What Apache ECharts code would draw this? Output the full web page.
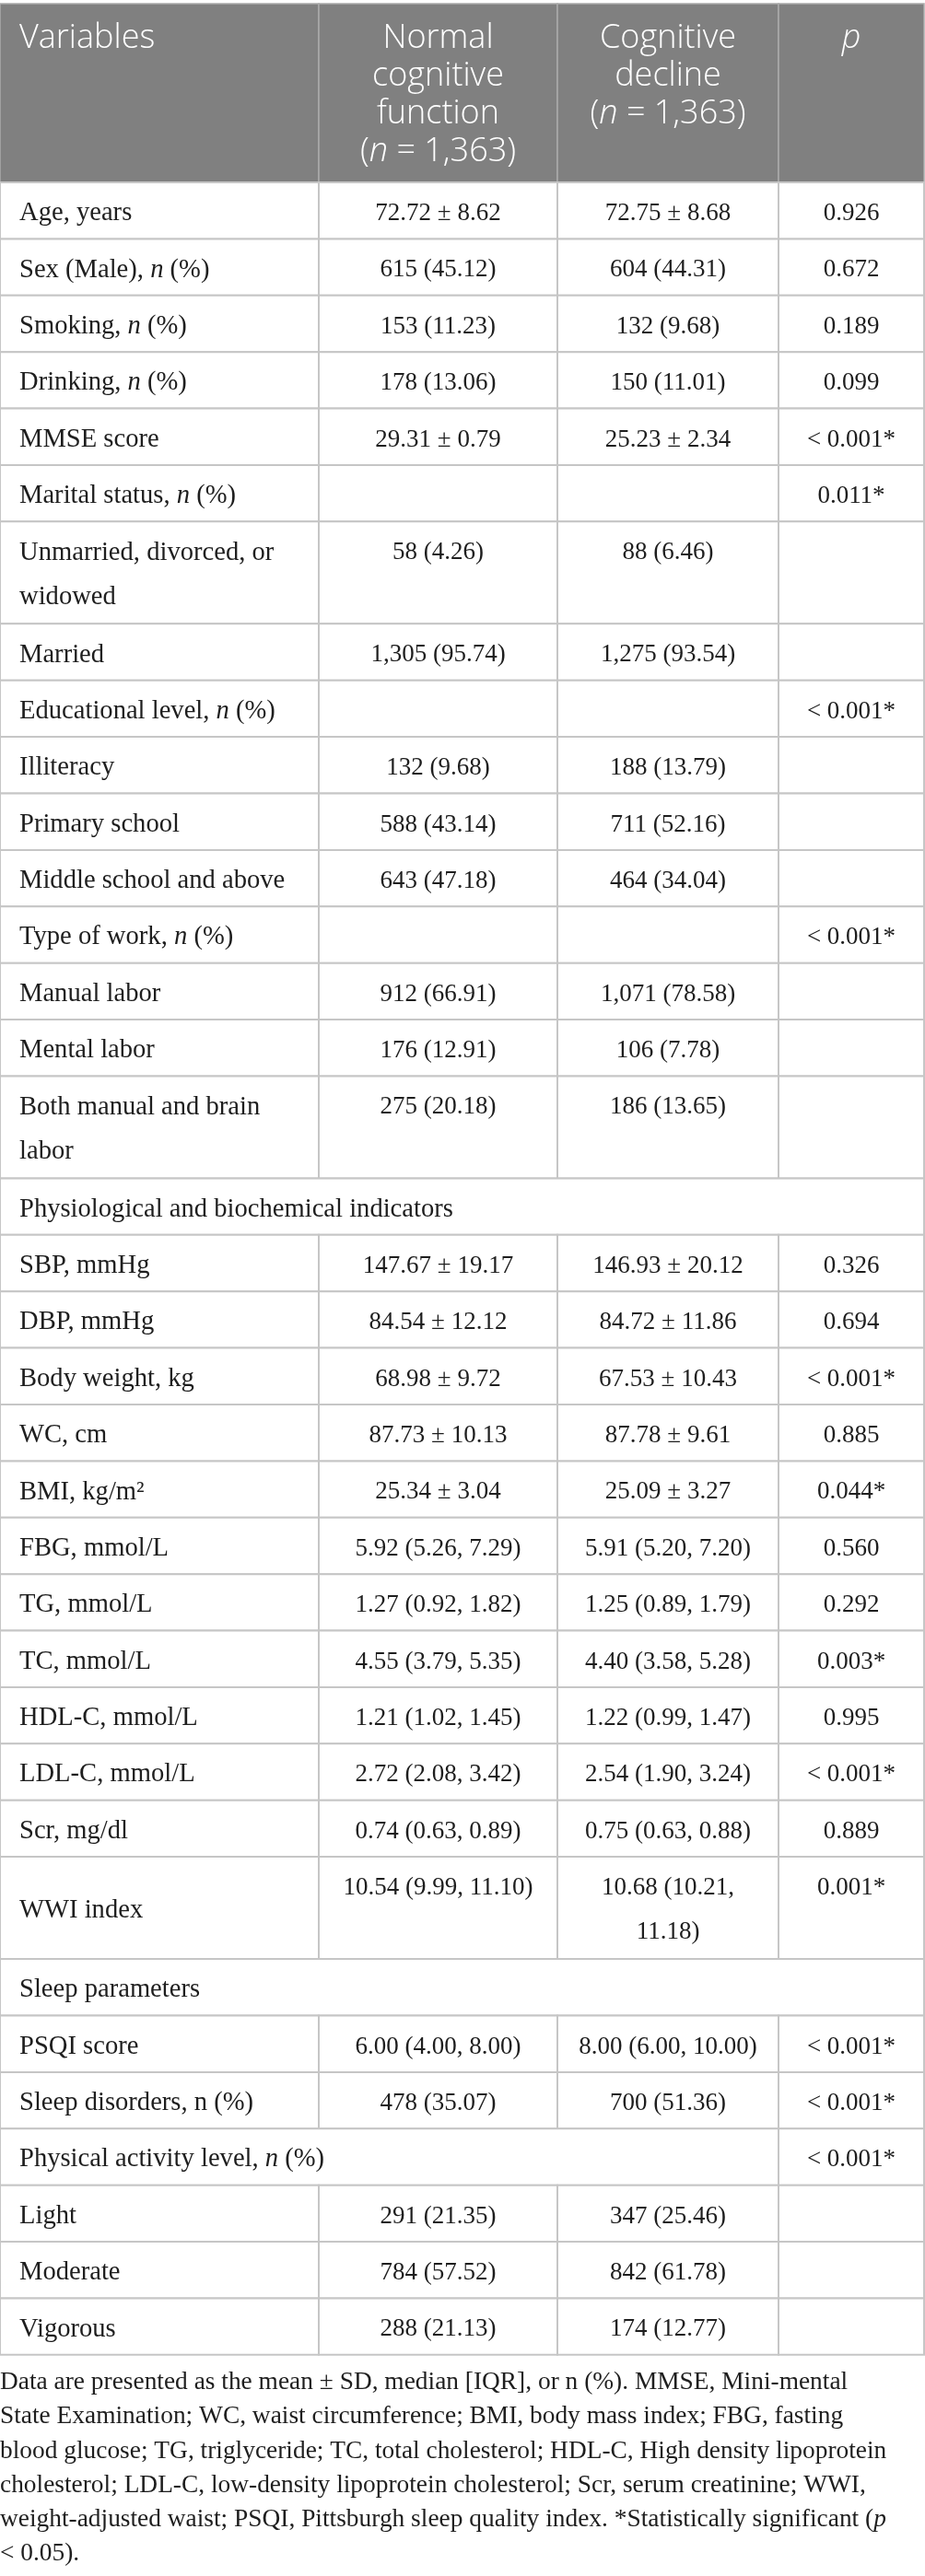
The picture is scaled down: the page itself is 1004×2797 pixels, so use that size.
<!DOCTYPE html>
<html>
<head>
<meta charset="utf-8">
<script src="https://cdn.jsdelivr.net/npm/echarts@6/dist/echarts.min.js"></script>
<style>
  html, body { margin: 0; padding: 0; background: #ffffff; }
  #chart { width: 1004px; height: 2797px; }
</style>
</head>
<body>
<div id="chart"></div>
<script>
// ---------- DATA ----------
const headers = [
  'Variables',
  'Normal\ncognitive\nfunction\n({i|n} = 1,363)',
  'Cognitive\ndecline\n({i|n} = 1,363)',
  '{i|p}'
];

const variables = [
  'Age, years',
  'Sex (Male), {i|n} (%)',
  'Smoking, {i|n} (%)',
  'Drinking, {i|n} (%)',
  'MMSE score',
  'Marital status, {i|n} (%)',
  'Unmarried, divorced, or\nwidowed',
  'Married',
  'Educational level, {i|n} (%)',
  'Illiteracy',
  'Primary school',
  'Middle school and above',
  'Type of work, {i|n} (%)',
  'Manual labor',
  'Mental labor',
  'Both manual and brain\nlabor',
  'Physiological and biochemical indicators',
  'SBP, mmHg',
  'DBP, mmHg',
  'Body weight, kg',
  'WC, cm',
  'BMI, kg/m²',
  'FBG, mmol/L',
  'TG, mmol/L',
  'TC, mmol/L',
  'HDL-C, mmol/L',
  'LDL-C, mmol/L',
  'Scr, mg/dl',
  'WWI index',
  'Sleep parameters',
  'PSQI score',
  'Sleep disorders, n (%)',
  'Physical activity level, {i|n} (%)',
  'Light',
  'Moderate',
  'Vigorous'
];

const normalGroup = [
  '72.72 ± 8.62', '615 (45.12)', '153 (11.23)', '178 (13.06)', '29.31 ± 0.79',
  '', '58 (4.26)', '1,305 (95.74)',
  '', '132 (9.68)', '588 (43.14)', '643 (47.18)',
  '', '912 (66.91)', '176 (12.91)', '275 (20.18)',
  '', '147.67 ± 19.17', '84.54 ± 12.12', '68.98 ± 9.72', '87.73 ± 10.13', '25.34 ± 3.04',
  '5.92 (5.26, 7.29)', '1.27 (0.92, 1.82)', '4.55 (3.79, 5.35)', '1.21 (1.02, 1.45)',
  '2.72 (2.08, 3.42)', '0.74 (0.63, 0.89)', '10.54 (9.99, 11.10)',
  '', '6.00 (4.00, 8.00)', '478 (35.07)',
  '', '291 (21.35)', '784 (57.52)', '288 (21.13)'
];

const declineGroup = [
  '72.75 ± 8.68', '604 (44.31)', '132 (9.68)', '150 (11.01)', '25.23 ± 2.34',
  '', '88 (6.46)', '1,275 (93.54)',
  '', '188 (13.79)', '711 (52.16)', '464 (34.04)',
  '', '1,071 (78.58)', '106 (7.78)', '186 (13.65)',
  '', '146.93 ± 20.12', '84.72 ± 11.86', '67.53 ± 10.43', '87.78 ± 9.61', '25.09 ± 3.27',
  '5.91 (5.20, 7.20)', '1.25 (0.89, 1.79)', '4.40 (3.58, 5.28)', '1.22 (0.99, 1.47)',
  '2.54 (1.90, 3.24)', '0.75 (0.63, 0.88)', '10.68 (10.21,\n11.18)',
  '', '8.00 (6.00, 10.00)', '700 (51.36)',
  '', '347 (25.46)', '842 (61.78)', '174 (12.77)'
];

const pValues = [
  '0.926', '0.672', '0.189', '0.099', '< 0.001*',
  '0.011*', '', '',
  '< 0.001*', '', '', '',
  '< 0.001*', '', '', '',
  '', '0.326', '0.694', '< 0.001*', '0.885', '0.044*',
  '0.560', '0.292', '0.003*', '0.995',
  '< 0.001*', '0.889', '0.001*',
  '', '< 0.001*', '< 0.001*',
  '< 0.001*', '', '', ''
];

const footnote =
  'Data are presented as the mean ± SD, median [IQR], or n (%). MMSE, Mini-mental\n' +
  'State Examination; WC, waist circumference; BMI, body mass index; FBG, fasting\n' +
  'blood glucose; TG, triglyceride; TC, total cholesterol; HDL-C, High density lipoprotein\n' +
  'cholesterol; LDL-C, low-density lipoprotein cholesterol; Scr, serum creatinine; WWI,\n' +
  'weight-adjusted waist; PSQI, Pittsburgh sleep quality index. *Statistically significant ({i|p}\n' +
  '< 0.05).';

// ---------- LAYOUT ----------
const colEdges = [0, 346, 605, 845, 1003];
const firstCellSpan = { 16: 4, 29: 4, 32: 3 };
const tableTop = 4;
const headerHeight = 194;
const rowBase = 61.38;
const extraLine = 49.7;
const W = 1004, H = 2797;

const serif = '"Liberation Serif", "Times New Roman", serif';
const sans = '"Open Sans", "Noto Sans", sans-serif';
const labelSize = 28.6;
const valueSize = 27;
const headSize = 36;
const noteSize = 27.4;
const ink = '#1e1e1e';

function nLines(s) { return s ? s.split('\n').length : 1; }

// build cells
const cells = [];
const dataItems = [];
headers.forEach((t, c) => {
  cells.push({ text: t, kind: 'head', col: c });
  dataItems.push([colEdges[c], colEdges[c + 1], tableTop, tableTop + headerHeight]);
});
let y = tableTop + headerHeight;
variables.forEach((v, r) => {
  const rowVals = [v, normalGroup[r], declineGroup[r], pValues[r]];
  const lines = Math.max.apply(null, rowVals.map(nLines));
  const h = rowBase + (lines - 1) * extraLine;
  const span = firstCellSpan[r] || 1;
  let c = 0;
  while (c < 4) {
    const s = c === 0 ? span : 1;
    cells.push({ text: rowVals[c], kind: c === 0 ? 'label' : 'value', col: c });
    dataItems.push([colEdges[c], colEdges[c + s], y, y + h]);
    c += s;
  }
  y += h;
});

const chart = echarts.init(document.getElementById('chart'), null, { renderer: 'canvas' });

function richFor(font, size, lh, color, weight) {
  return {
    i: { fontFamily: font, fontSize: size, fontStyle: 'italic', fontWeight: weight || 'normal',
         lineHeight: lh, fill: color, color: color }
  };
}

const option = {
  animation: false,
  backgroundColor: '#ffffff',
  grid: { left: 0, right: 0, top: 0, bottom: 0 },
  xAxis: { type: 'value', min: 0, max: W, show: false },
  yAxis: { type: 'value', min: 0, max: H, inverse: true, show: false },
  graphic: [{
    type: 'text',
    left: 0,
    top: 2568.4,
    style: {
      text: footnote,
      fontFamily: serif,
      fontSize: noteSize,
      lineHeight: 37.2,
      fill: ink,
      rich: richFor(serif, noteSize, 37.2, ink)
    }
  }],
  series: [{
    type: 'custom',
    coordinateSystem: 'cartesian2d',
    silent: true,
    clip: false,
    data: dataItems,
    renderItem: function (params, api) {
      const cell = cells[params.dataIndex];
      const p0 = api.coord([api.value(0), api.value(2)]);
      const p1 = api.coord([api.value(1), api.value(3)]);
      const x0 = p0[0], y0 = p0[1], w = p1[0] - p0[0], h = p1[1] - p0[1];
      const isHead = cell.kind === 'head';
      const children = [{
        type: 'rect',
        shape: { x: x0, y: y0, width: w, height: h },
        style: {
          fill: isHead ? '#808080' : '#ffffff',
          stroke: isHead ? '#aaaaaa' : '#c6c6c6',
          lineWidth: isHead ? 1.5 : 2
        }
      }];
      if (cell.text) {
        let style;
        if (isHead) {
          const left = cell.col === 0;
          style = {
            text: cell.text,
            x: left ? x0 + 21 : x0 + w / 2,
            y: y0 + 17,
            align: left ? 'left' : 'center',
            textAlign: left ? 'left' : 'center',
            verticalAlign: 'top',
            textVerticalAlign: 'top',
            fontFamily: sans,
            fontSize: headSize,
            fontWeight: 300,
            lineHeight: 41,
            fill: '#ffffff',
            rich: richFor(sans, headSize, 41, '#ffffff', 300)
          };
        } else if (cell.kind === 'label') {
          style = {
            text: cell.text,
            x: x0 + 21,
            y: y0 + h / 2 + 3,
            align: 'left',
            textAlign: 'left',
            verticalAlign: 'middle',
            textVerticalAlign: 'middle',
            fontFamily: serif,
            fontSize: labelSize,
            lineHeight: 48,
            fill: ink,
            rich: richFor(serif, labelSize, 48, ink)
          };
        } else {
          style = {
            text: cell.text,
            x: x0 + w / 2,
            y: y0 + 10,
            align: 'center',
            textAlign: 'center',
            verticalAlign: 'top',
            textVerticalAlign: 'top',
            fontFamily: serif,
            fontSize: valueSize,
            lineHeight: 48,
            fill: ink,
            rich: richFor(serif, valueSize, 48, ink)
          };
        }
        children.push({ type: 'text', style: style });
      }
      return { type: 'group', children: children };
    }
  }]
};
chart.setOption(option);
</script>
</body>
</html>
